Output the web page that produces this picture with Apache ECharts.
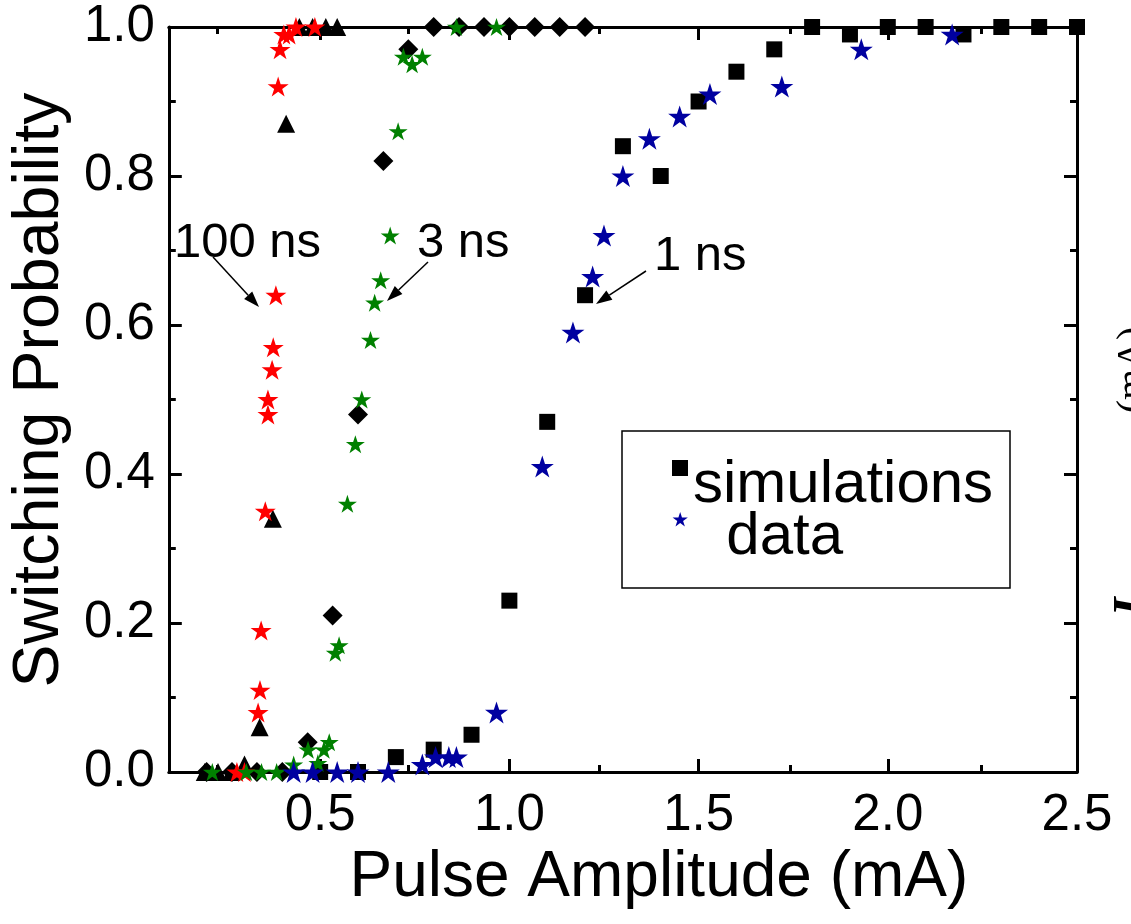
<!DOCTYPE html>
<html>
<head>
<meta charset="utf-8">
<script src="https://cdn.jsdelivr.net/npm/echarts@6/dist/echarts.min.js"></script>
<style>
html,body{margin:0;padding:0;background:#fff;}
#chart{width:1131px;height:924px;}
</style>
</head>
<body>
<div id="chart"></div>
<script>
// ---------------- data ----------------
const xMajorTicks = [0.5, 1.0, 1.5, 2.0, 2.5];
const xMinorTicks = [0.25, 0.75, 1.25, 1.75, 2.25];

// simulations, 100 ns (black triangles)
const sim100ns = [[0.195,0],[0.23,0],[0.265,0],[0.30,0.01],[0.34,0.06],[0.375,0.34],[0.41,0.87],[0.445,1.0],[0.48,1.0],[0.515,1.0],[0.545,1.0]];
// simulations, 3 ns (black diamonds)
const sim3ns = [[0.2,0],[0.267,0],[0.333,0],[0.4,0],[0.467,0.04],[0.533,0.21],[0.6,0.48],[0.667,0.82],[0.733,0.97],[0.8,1],[0.867,1],[0.933,1],[1.0,1],[1.067,1],[1.133,1],[1.2,1]];
// simulations, 1 ns (black squares)
const sim1ns = [[0.5,0],[0.6,0],[0.7,0.02],[0.8,0.03],[0.9,0.05],[1.0,0.23],[1.1,0.47],[1.2,0.64],[1.3,0.84],[1.4,0.80],[1.5,0.90],[1.6,0.94],[1.7,0.97],[1.8,1.0],[1.9,0.99],[2.0,1.0],[2.1,1.0],[2.2,0.99],[2.3,1.0],[2.4,1.0],[2.5,1.0]];
// data, 100 ns (red stars)
const data100ns = [[0.28,0],[0.30,0],[0.336,0.08],[0.341,0.11],[0.344,0.19],[0.355,0.35],[0.362,0.48],[0.362,0.50],[0.373,0.54],[0.376,0.57],[0.383,0.64],[0.389,0.92],[0.394,0.97],[0.404,0.99],[0.418,0.99],[0.436,1.0],[0.486,1.0]];
// data, 3 ns (green stars)
const data3ns = [[0.215,0],[0.305,0],[0.345,0],[0.385,0],[0.43,0.01],[0.468,0.03],[0.494,0.012],[0.51,0.03],[0.524,0.04],[0.54,0.16],[0.55,0.17],[0.572,0.36],[0.593,0.44],[0.61,0.50],[0.633,0.58],[0.644,0.63],[0.66,0.66],[0.685,0.72],[0.706,0.86],[0.72,0.96],[0.743,0.95],[0.77,0.96],[0.86,1.0],[0.966,1.0]];
// data, 1 ns (blue stars)
const data1ns = [[0.43,0],[0.48,0],[0.545,0],[0.60,0],[0.68,0],[0.77,0.01],[0.805,0.02],[0.84,0.02],[0.86,0.02],[0.966,0.08],[1.087,0.41],[1.168,0.59],[1.22,0.665],[1.25,0.72],[1.30,0.80],[1.37,0.85],[1.45,0.88],[1.53,0.91],[1.72,0.92],[1.93,0.97],[2.17,0.99]];

const legendNames = ['simulations', 'data'];
const annotationTexts = ['100 ns', '3 ns', '1 ns'];

// ---------------- styling ----------------
const FONT = '"Liberation Sans", Arial, Helvetica, sans-serif';
const STAR = 'path://M50 0 L61.2 34.5 L97.6 34.5 L68.2 55.9 L79.4 90.5 L50 69.1 L20.6 90.5 L31.8 55.9 L2.4 34.5 L38.8 34.5 Z';
// legend icons: 16x16 glyph at the top of a 16x50 box (tiny dot at the bottom keeps the box size)
const LEG_SQUARE = 'path://M0 0H16V16H0Z M0 49.95H0.05V50H0Z';
const LEG_STAR = 'path://M8 0 L9.79 5.52 L15.62 5.52 L10.91 8.94 L12.7 14.48 L8 11.06 L3.3 14.48 L5.09 8.94 L0.38 5.52 L6.21 5.52 Z M0 49.95H0.05V50H0Z';
const AX = {color:'#000', width:3};

function scatter(name, data, symbol, size, color, z){
  return {type:'scatter', name, data, symbol, symbolSize:size, xAxisIndex:0, yAxisIndex:0,
    itemStyle:{color, opacity:1, borderWidth:0}, z, silent:true, animation:false};
}

function xAx(grid, pos, ticks, len, withLine, withLabel){
  return {gridIndex:grid, type:'value', position:pos, min:0.1, max:2.5,
    axisLine:{show:withLine, onZero:false, lineStyle:AX},
    axisTick:{show:true, inside:true, length:len, customValues:ticks, lineStyle:AX},
    axisLabel:{show:withLabel, customValues:ticks, formatter:v=>v.toFixed(1), fontSize:51, color:'#000', fontFamily:FONT, margin:18},
    splitLine:{show:false}, minorTick:{show:false}};
}
function yAx(grid, pos, withLabel){
  return {gridIndex:grid, type:'value', position:pos, min:0, max:1, interval:0.2,
    axisLine:{show:true, onZero:false, lineStyle:AX},
    axisTick:{show:true, inside:true, length:13, lineStyle:AX},
    minorTick:{show:true, splitNumber:2, length:7, lineStyle:AX},
    axisLabel:{show:withLabel, formatter:v=>v.toFixed(1), fontSize:51, color:'#000', fontFamily:FONT, margin:14},
    splitLine:{show:false}};
}

const GRID = {left:160, right:54, top:27, bottom:152};
const xAxes = [
  xAx(0,'bottom',xMajorTicks,13,true,true),
  xAx(0,'top',xMajorTicks,13,true,false),
  xAx(1,'bottom',xMinorTicks,7,false,false),
  xAx(1,'top',xMinorTicks,7,false,false)
];
Object.assign(xAxes[0], {name:'Pulse Amplitude (mA)', nameLocation:'middle', nameGap:66,
  nameTextStyle:{fontSize:64, color:'#000', fontFamily:FONT, padding:[0,0,0,72]}});
const yAxes = [yAx(0,'left',true), yAx(0,'right',false), {gridIndex:1, type:'value', min:0, max:1, show:false}];
Object.assign(yAxes[0], {name:'Switching Probability', nameLocation:'middle', nameGap:82,
  nameTextStyle:{fontSize:64.5, color:'#000', fontFamily:FONT, padding:[0,0,0,19]}});

function arrow(x1,y1,x2,y2){
  const dx=x2-x1, dy=y2-y1, L=Math.hypot(dx,dy), ux=dx/L, uy=dy/L;
  const hl=16, hw=5.5, bx=x2-ux*hl, by=y2-uy*hl;
  return [
    {type:'line', shape:{x1, y1, x2:bx, y2:by}, style:{stroke:'#000', lineWidth:1.5}, z:10},
    {type:'polygon', shape:{points:[[x2,y2],[bx-uy*hw,by+ux*hw],[bx+uy*hw,by-ux*hw]]}, style:{fill:'#000'}, z:10}
  ];
}
function label(txt,x,y){
  return {type:'text', x, y, style:{text:txt, font:'49px '+FONT, fill:'#000', textAlign:'left', textVerticalAlign:'middle'}, z:10};
}

const chart = echarts.init(document.getElementById('chart'), null, {renderer:'canvas'});
chart.setOption({
  animation:false,
  backgroundColor:'#fff',
  grid:[Object.assign({},GRID), Object.assign({},GRID)],
  xAxis:xAxes,
  yAxis:yAxes,
  legend:{data:[{name:legendNames[0], icon:LEG_SQUARE},{name:legendNames[1], icon:LEG_STAR}],
    orient:'vertical', left:672, top:455, padding:0, itemWidth:16, itemHeight:50, itemGap:-8,
    selectedMode:false, z:5,
    textStyle:{fontSize:60, fontFamily:FONT, color:'#000', lineHeight:40},
    formatter:n=> n===legendNames[1] ? '  '+n : n},
  series:[
    scatter('sim 100 ns', sim100ns, 'triangle', 18, '#000', 2),
    scatter('sim 3 ns', sim3ns, 'diamond', 20, '#000', 2),
    scatter(legendNames[0], sim1ns, 'rect', 16, '#000', 2),
    scatter('data 100 ns', data100ns, STAR, [21,20], '#ff0000', 3),
    scatter('data 3 ns', data3ns, STAR, [19,18], '#008000', 3),
    scatter(legendNames[1], data1ns, STAR, [23,22], '#0000a0', 3)
  ],
  graphic:[
    {type:'rect', shape:{x:622,y:431,width:388,height:157}, style:{fill:'#fff', stroke:'#000', lineWidth:1.5}, z:1},
    label(annotationTexts[0],174,243),
    label(annotationTexts[1],417,243),
    label(annotationTexts[2],654,256),
    ...arrow(213,257,259,307),
    ...arrow(428,262,387,301),
    ...arrow(646,271,596,304),
    {type:'text', x:1133, y:370, rotation:Math.PI/2, style:{text:'(mA)', font:'40px "Liberation Serif", serif', fill:'#000', textAlign:'center', textVerticalAlign:'middle'}, z:10},
    {type:'text', x:1134, y:607, rotation:Math.PI/2, style:{text:'I', font:'italic bold 50px "Liberation Serif", serif', fill:'#000', textAlign:'center', textVerticalAlign:'middle'}, z:10}
  ]
});
</script>
</body>
</html>
